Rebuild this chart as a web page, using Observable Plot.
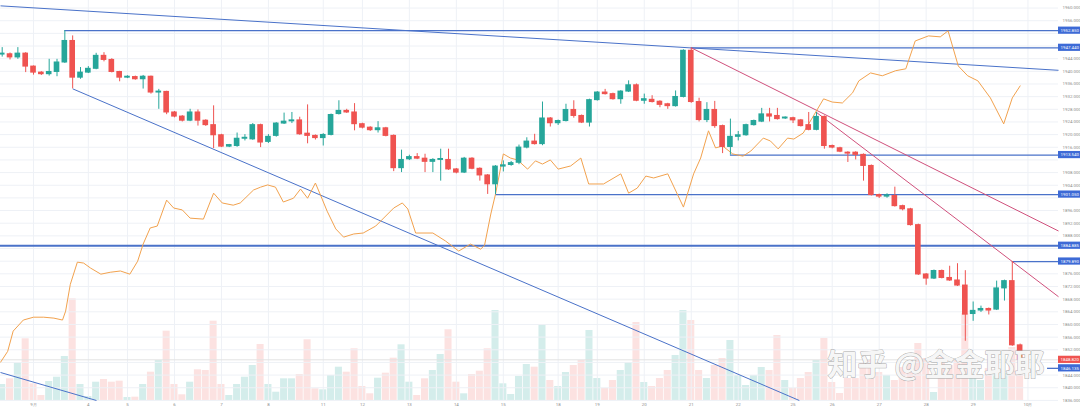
<!DOCTYPE html>
<html>
<head>
<meta charset="utf-8">
<script src="https://cdn.jsdelivr.net/npm/d3@7"></script>
<script src="https://cdn.jsdelivr.net/npm/@observablehq/plot@0.6"></script>
<style>
html,body{margin:0;padding:0;background:#fff;}
#wrap{position:relative;width:1080px;height:409px;overflow:hidden;background:#fff;}
#wrap svg{position:absolute;left:0;top:0;}
</style>
</head>
<body>
<div id="wrap"></div>
<script>
// ---- data (4h candles, XAUUSD, Sep 2023) ----
const open  = [1945.3,1945.4,1944.4,1945.6,1941.5,1939.6,1939.1,1939.8,1942.8,1949.6,
1938.0,1939.6,1940.8,1944.9,1943.6,1939.8,1938.0,1938.2,1937.5,1938.3,
1933.3,1933.5,1927.0,1925.7,1924.4,1927.0,1924.4,1923.0,1919.8,1916.2,
1916.4,1918.7,1918.5,1923.0,1917.7,1919.6,1923.5,1924.2,1924.5,1920.3,
1919.6,1918.9,1919.9,1926.5,1927.5,1927.0,1923.3,1922.2,1921.4,1922.0,
1919.6,1909.4,1912.2,1912.9,1912.4,1911.4,1912.0,1912.0,1909.0,1908.0,
1912.4,1909.2,1907.1,1904.3,1909.9,1910.4,1911.1,1915.9,1917.8,1917.0,
1925.1,1923.6,1924.3,1927.8,1925.9,1923.8,1930.9,1933.3,1932.8,1931.2,
1933.6,1935.6,1930.7,1931.0,1930.4,1929.6,1929.0,1931.9,1946.5,1930.3,
1924.6,1927.8,1922.7,1916.1,1919.3,1919.8,1923.0,1924.1,1926.4,1925.9,
1925.1,1925.2,1924.5,1923.0,1921.5,1925.6,1916.4,1915.7,1914.3,1914.3,
1913.6,1910.1,1900.9,1900.4,1900.6,1897.4,1896.4,1891.4,1875.8,1874.5,
1876.9,1874.7,1873.9,1872.3,1863.3,1864.4,1864.9,1864.7,1871.4,1873.7,
1853.4];
const high  = [1947.5,1945.8,1947.5,1945.9,1941.7,1939.9,1943.8,1943.8,1952.85,1951.2,
1941.2,1941.5,1945.7,1945.9,1944.0,1940.0,1938.6,1938.5,1938.7,1938.5,
1934.3,1933.7,1927.3,1926.0,1928.0,1927.8,1924.7,1929.1,1920.1,1916.9,
1920.5,1920.0,1923.5,1923.3,1920.0,1923.8,1926.8,1927.0,1925.5,1929.4,
1919.9,1920.3,1926.5,1930.7,1928.0,1929.8,1923.6,1922.5,1924.1,1922.3,
1919.9,1915.1,1913.5,1914.0,1913.8,1912.4,1915.4,1915.4,1909.3,1912.8,
1912.7,1909.5,1907.4,1910.2,1911.7,1911.5,1916.7,1919.0,1920.1,1930.3,
1925.4,1924.6,1929.6,1930.7,1926.2,1931.2,1933.6,1934.3,1933.1,1933.9,
1937.0,1936.0,1932.8,1932.3,1930.7,1929.9,1933.8,1946.8,1947.44,1931.5,
1930.1,1930.5,1923.0,1924.9,1921.0,1923.3,1924.6,1928.3,1928.3,1928.3,
1925.6,1925.5,1924.8,1927.0,1927.0,1925.9,1916.7,1916.0,1914.6,1914.6,
1913.9,1910.4,1901.2,1901.3,1903.4,1897.7,1896.7,1891.7,1876.1,1877.2,
1877.2,1878.4,1879.2,1877.0,1867.1,1865.8,1865.2,1873.7,1874.0,1879.89,
1853.8];
const low   = [1944.5,1943.6,1943.8,1939.6,1938.8,1938.7,1938.5,1938.3,1942.5,1934.48,
1937.5,1939.3,1940.5,1943.0,1939.5,1936.7,1937.7,1937.2,1934.4,1932.8,
1928.0,1926.3,1925.3,1924.0,1924.1,1922.7,1922.6,1915.6,1915.9,1915.9,
1916.0,1918.0,1918.2,1915.9,1917.2,1919.2,1923.2,1923.5,1919.8,1917.1,
1918.3,1916.4,1919.6,1926.2,1926.7,1921.2,1921.8,1921.0,1920.5,1919.3,
1908.3,1908.0,1911.8,1912.1,1908.0,1908.0,1905.3,1908.7,1907.6,1907.7,
1908.9,1905.3,1901.1,1901.05,1908.2,1910.0,1910.5,1915.5,1916.7,1916.5,
1922.4,1922.9,1924.0,1925.2,1923.5,1922.4,1930.6,1932.5,1930.9,1929.6,
1933.3,1930.4,1929.6,1930.0,1928.5,1928.0,1928.7,1931.6,1929.9,1924.0,
1923.8,1922.0,1914.0,1913.54,1918.0,1919.5,1922.7,1923.8,1924.0,1924.6,
1924.8,1923.5,1922.4,1921.2,1921.2,1915.4,1915.5,1914.3,1911.2,1912.0,
1905.3,1900.6,1899.8,1899.9,1897.1,1895.9,1891.1,1875.5,1872.4,1874.2,
1874.4,1873.6,1872.0,1854.7,1861.0,1863.8,1863.0,1864.4,1867.4,1853.1,
1846.135];
const close = [1945.6,1944.4,1945.6,1941.5,1939.6,1939.1,1939.8,1942.8,1949.6,1938.0,
1939.6,1940.8,1944.9,1943.6,1939.8,1938.0,1938.3,1937.5,1938.3,1933.3,
1933.6,1927.0,1925.7,1924.4,1927.0,1924.4,1923.0,1919.8,1916.2,1916.7,
1918.7,1919.0,1923.0,1917.5,1919.3,1923.5,1924.1,1924.5,1920.1,1919.6,
1918.9,1919.9,1926.2,1927.5,1927.0,1923.3,1922.2,1921.4,1922.0,1919.6,
1909.4,1912.0,1912.9,1912.4,1911.4,1912.0,1912.3,1909.0,1908.0,1912.4,
1909.2,1907.1,1904.3,1909.9,1910.3,1911.0,1915.9,1917.8,1917.0,1925.1,
1923.6,1924.3,1927.8,1925.9,1923.8,1930.9,1933.3,1932.8,1931.2,1933.6,
1935.6,1930.7,1931.2,1930.3,1929.4,1929.0,1931.9,1946.5,1930.3,1924.6,
1927.8,1922.7,1916.1,1919.3,1919.8,1923.0,1924.3,1926.4,1925.7,1924.9,
1925.4,1924.5,1922.7,1921.5,1925.6,1916.4,1915.9,1914.6,1914.0,1913.6,
1910.1,1900.9,1900.4,1900.8,1897.4,1896.4,1891.4,1875.8,1874.5,1876.9,
1874.7,1873.9,1872.3,1863.1,1864.3,1864.9,1864.4,1871.4,1873.7,1853.4,
1848.82];
const volume = [1600,2170,3730,6170,1670,500,1900,2330,4400,10170,
1600,400,1830,2100,1830,1930,300,330,1600,2830,
4000,6930,1600,570,1830,3070,3000,7930,1600,500,
1600,2330,3500,5600,1600,830,2170,2170,2600,6070,
1170,1070,2500,3330,2830,5170,1400,670,2230,2730,
4230,5570,1830,500,2170,3000,4600,7070,1830,670,
2600,2930,5170,9000,1670,600,2400,3600,3330,7500,
2000,1400,2800,3500,4000,7000,2200,1200,2000,3000,
3800,7800,1800,1400,2200,3000,4500,9000,8000,3000,
2200,3500,4200,6000,2500,1500,2500,3300,3000,6500,
2000,1200,2200,2800,4000,6200,1800,700,2200,2200,
3800,4000,2800,2500,2000,3300,3800,5700,4200,800,
4300,3500,4000,8700,2500,2000,3200,2700,2700,5300,
3000];

// orange indicator (traced vertices: candle position, value on price axis)
const oscIdx = [-0.2,0.7,1.4,2.7,4.0,5.3,6.6,7.7,8.1,8.7,9.6,10.4,11.3,12.6,13.8,15.1,16.3,17.3,18.0,18.9,
19.8,21.0,21.9,23.0,24.0,25.7,27.0,28.1,29.5,30.4,32.1,33.0,33.9,34.9,35.9,37.2,38.1,39.0,40.0,40.6,
41.5,42.6,43.6,44.9,46.1,47.7,50.0,51.1,51.8,52.8,55.0,56.6,58.3,59.8,61.1,61.6,62.4,63.0,64.0,64.9,
65.8,67.1,68.1,69.0,70.0,71.0,72.6,73.9,74.9,76.8,79.0,80.0,81.1,82.2,83.2,85.0,87.0,88.3,89.2,90.2,
91.1,92.0,93.3,94.6,95.6,97.2,98.1,99.1,100.3,101.1,102.3,103.6,104.9,106.0,107.3,108.6,109.4,110.9,112.4,114.1,
115.4,116.6,118.3,119.8,120.8,122.1,123.3,124.6,126.2,127.9,129.0,130.0];
const oscVal = [1848.1,1851.5,1857.9,1861.4,1862.3,1862.3,1862.0,1861.4,1864.2,1872.7,1879.7,1879.4,1877.8,1875.9,1876.5,1876.9,1875.9,1880.0,1885.4,1890.5,
1891.1,1899.3,1896.8,1896.2,1893.6,1893.3,1901.5,1898.4,1897.7,1898.4,1902.5,1903.4,1904.1,1903.4,1898.7,1899.9,1902.8,1899.9,1904.7,1901.2,
1895.8,1890.2,1887.6,1888.6,1888.9,1891.1,1896.8,1898.4,1896.5,1888.9,1888.9,1886.4,1883.2,1885.4,1883.8,1885.0,1894.9,1901.2,1913.9,1912.6,
1912.0,1909.1,1911.7,1910.7,1912.0,1909.1,1910.1,1912.6,1904.4,1904.4,1907.6,1901.5,1903.1,1906.9,1906.3,1907.6,1897.1,1907.6,1912.6,1921.2,
1915.8,1916.4,1913.9,1913.2,1914.8,1918.9,1918.0,1915.5,1918.9,1918.6,1920.5,1925.9,1931.3,1930.3,1930.0,1933.2,1937.0,1939.5,1938.6,1940.2,
1940.8,1949.6,1951.2,1950.9,1952.8,1941.7,1938.6,1937.0,1931.6,1923.4,1931.6,1935.4];

// horizontal levels: price, first candle, line width
const levelPrice = [1952.85,1947.44,1913.54,1901.05,1884.885,1879.89,1846.135];
const levelFrom  = [8,88,93,63,-0.217,129,133.5];
const levelWidth = [1.3,1.3,1.3,1.3,2,1.3,1.3];

// trend lines: start (candle, price) -> end (candle, price)
const trendX1 = [-0.217, 9, -0.217, 88, 104];
const trendY1 = [1960.7, 1934.48, 1844.82, 1947.44, 1927.0];
const trendX2 = [134.9, 101.8, 12.04, 134.9, 134.9];
const trendY2 = [1940.33, 1835.97, 1835.97, 1889.54, 1868.77];
const trendColor = ["#4a72c9","#4a72c9","#4a72c9","#d0517c","#d0517c"];

// right-axis price tags
const tagPrice = [1952.85,1947.44,1913.54,1901.05,1884.885,1879.89,1848.82,1846.135];
const tagColor = ["#3d6ad6","#3d6ad6","#3d6ad6","#3d6ad6","#3d6ad6","#3d6ad6","#ef5350","#3d6ad6"];

// date ticks (candle index -> label)
const tickIdx = [4,11,16,22,28,34,41,46,52,58,64,71,76,82,88,94,101,106,112,118,124,131];
const tickLabel = ["9月","4","5","6","7","8","11","12","13","14","15","18","19","20","21","22","25","26","27","28","29","10月"];

const priceTicks = d3.range(1836, 1961, 4);

// ---- layout ----
const W = 1080, H = 409, mR = 22, mB = 9;
const xDomain = [-0.217, 134.9];
const yDomain = [1835.97, 1962.39];
const pxPerIdx = (W - mR) / (xDomain[1] - xDomain[0]);
const pxPerPrice = (H - mB) / (yDomain[1] - yDomain[0]);
const xEdge = xDomain[1];
const xEnd = xDomain[1] + mR / pxPerIdx;
const tagHalf = 3.6 / pxPerPrice;
// axis labels hidden where a price tag sits on top of them
const axisTicks = priceTicks.filter(t => tagPrice.every(p => Math.abs(p - t) * pxPerPrice > 6));

const GREEN = "#26a69a", RED = "#ef5350";
const candles = d3.range(open.length).map(i => ({
  i, o: open[i], h: high[i], l: low[i], c: close[i], v: volume[i], up: close[i] >= open[i]
}));
const osc = oscIdx.map((x, k) => ({x, y: oscVal[k]}));
const levels = levelPrice.map((p, k) => ({p, from: levelFrom[k], w: levelWidth[k]}));
const trends = trendX1.map((x, k) => ({x1: x, y1: trendY1[k], x2: trendX2[k], y2: trendY2[k], c: trendColor[k]}));
const tags = tagPrice.map((p, k) => ({p, c: tagColor[k]}));
const labelOf = new Map(tickIdx.map((t, k) => [t, tickLabel[k]]));
const fmt = d3.format(".3f");

const common = {
  width: W, height: H, marginLeft: 0, marginRight: mR, marginTop: 0, marginBottom: mB,
  style: {background: "transparent", fontFamily: "Roboto, 'Noto Sans', sans-serif"}
};

// volume layer
const volPlot = Plot.plot({
  ...common,
  x: {domain: xDomain, axis: null},
  y: {domain: [0, 40000], axis: null},
  marks: [
    Plot.rect(candles, {
      x1: d => d.i - 0.45, x2: d => d.i + 0.45, y1: 0, y2: "v",
      fill: d => d.up ? GREEN : RED, fillOpacity: d => d.up ? 0.2 : 0.17
    })
  ]
});

// price layer
const pricePlot = Plot.plot({
  ...common,
  x: {domain: xDomain},
  y: {domain: yDomain},
  marks: [
    Plot.gridY(priceTicks, {stroke: "#eef1f6", strokeOpacity: 1, x1: xDomain[0], x2: xEdge}),
    Plot.gridX(tickIdx, {stroke: "#eef1f6", strokeOpacity: 1}),
    Plot.ruleY([1848.82], {stroke: "#e2e2e2", strokeWidth: 1, x1: xDomain[0], x2: xEdge}),
    Plot.ruleY(levels, {y: "p", x1: "from", x2: xEdge, stroke: "#4a72c9", strokeWidth: "w"}),
    Plot.link(trends, {x1: "x1", y1: "y1", x2: "x2", y2: "y2", stroke: "c", strokeWidth: 1}),
    Plot.line(osc, {x: "x", y: "y", stroke: "#f2a24e", strokeWidth: 1}),
    Plot.ruleX(candles, {x: "i", y1: "l", y2: "h", stroke: d => d.up ? GREEN : RED, strokeWidth: 1}),
    Plot.rect(candles, {
      x1: d => d.i - 0.36, x2: d => d.i + 0.36, y1: "o", y2: "c",
      fill: d => d.up ? GREEN : RED, insetTop: -0.5, insetBottom: -0.5
    }),
    Plot.text(["知乎 @金金耶耶"], {
      frameAnchor: "bottom-right", dx: -14, dy: -26, lineAnchor: "bottom", textAnchor: "end",
      fontSize: 30, fontWeight: "bold", fontFamily: "'Noto Sans CJK SC', sans-serif",
      fill: "#f6f6f6", stroke: "#a8a8a8", strokeWidth: 0.9
    }),
    Plot.axisY({
      anchor: "right", ticks: axisTicks, tickFormat: fmt, tickSize: 0, tickPadding: 4,
      fontSize: 4.4, fill: "#8c8c8c"
    }),
    Plot.axisX({
      ticks: tickIdx, tickFormat: d => labelOf.get(d), tickSize: 0, tickPadding: 2,
      fontSize: 4.4, fill: "#8c8c8c"
    }),
    Plot.rect(tags, {x1: xEdge, x2: xEnd, y1: d => d.p - tagHalf, y2: d => d.p + tagHalf, fill: "c"}),
    Plot.text(tags, {x: xEdge, y: "p", text: d => fmt(d.p), dx: 2, textAnchor: "start", fontSize: 4.4, fill: "white"})
  ]
});

const wrap = document.getElementById("wrap");
wrap.appendChild(volPlot);
wrap.appendChild(pricePlot);
</script>
</body>
</html>
